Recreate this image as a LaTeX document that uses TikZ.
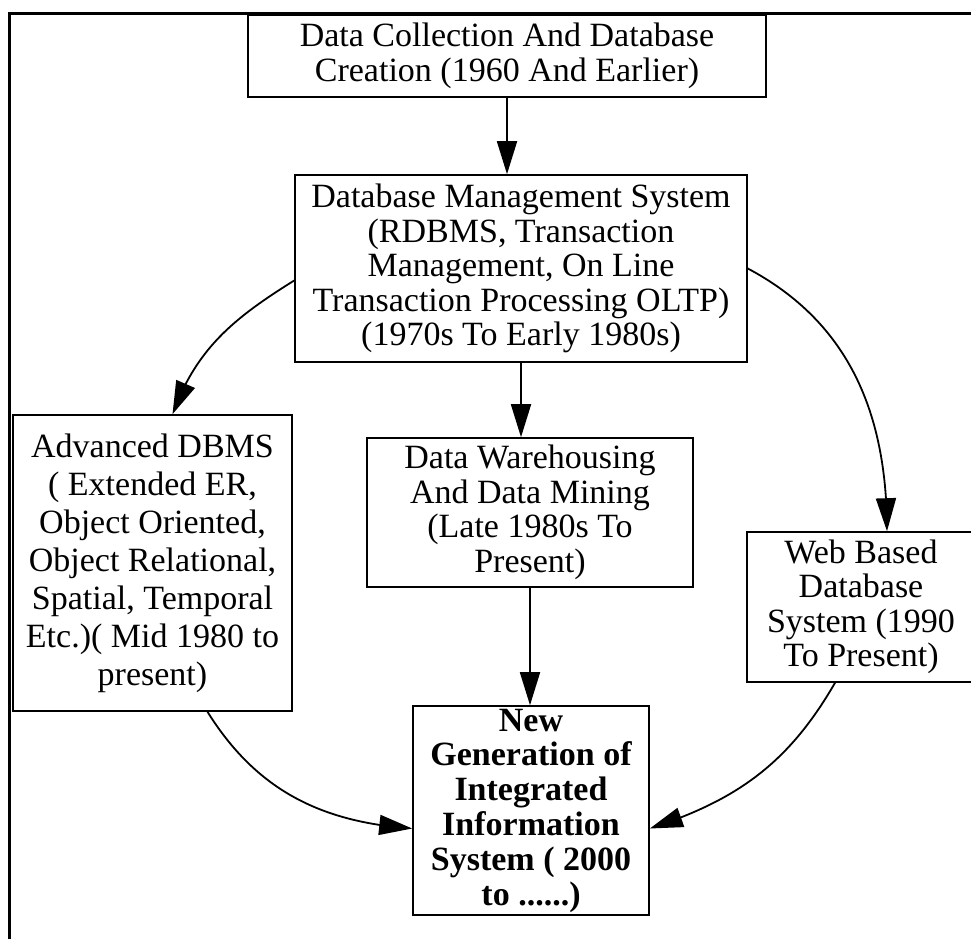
\documentclass[tikz,border=0pt]{standalone}
\usepackage{fontspec}
\setmainfont{Liberation Serif}
\usetikzlibrary{arrows.meta,bending,calc}

\tikzset{
  box/.style={draw, line width=1.6pt, inner sep=0pt, align=center,
    font=\fontsize{34}{34.5}\selectfont},
  link/.style={line width=1.8pt, -{Triangle[length=33pt,width=20pt]}},
}

\begin{document}
\begin{tikzpicture}[x=1pt, y=-1pt]
  \useasboundingbox (0,0) rectangle (971,939);

  % frame along the top and left edges
  \draw[line width=3pt] (9,939) -- (9,14) -- (971,14);

  % stages
  \node[box, minimum width=518pt, minimum height=82pt] (collect) at (507,56)
    {Data Collection And Database\\Creation (1960 And Earlier)};
  \node[box, minimum width=452pt, minimum height=187pt] (dbms) at (521,268.5)
    {Database Management System\\(RDBMS, Transaction\\Management, On Line\\Transaction Processing OLTP)\\(1970s To Early 1980s)};
  \node[box, minimum width=279pt, minimum height=296pt,
        font=\fontsize{34}{38}\selectfont] (adv) at (152.5,563)
    {Advanced DBMS\\( Extended ER,\\Object Oriented,\\Object Relational,\\Spatial, Temporal\\Etc.)( Mid 1980 to\\present)};
  \node[box, minimum width=326pt, minimum height=149pt] (dw) at (530,512.5)
    {Data Warehousing\\And Data Mining\\(Late 1980s To\\Present)};
  \node[box, minimum width=228pt, minimum height=150pt] (web) at (861,607)
    {Web Based\\Database\\System (1990\\To Present)};
  \node[box, minimum width=236pt, minimum height=209pt,
        font=\fontsize{34}{34.8}\selectfont\bfseries] (newgen) at (531,810.5)
    {New\\Generation of\\Integrated\\Information\\System ( 2000\\to ......)};

  % straight links
  \draw[link] (collect.south) -- (collect.south |- dbms.north);
  \draw[link] (dbms.south) -- (dbms.south |- dw.north);
  \draw[link] (dw.south) -- (dw.south |- newgen.north);

  % curved links
  \draw[link] ($(dbms.west)+(0,12)$) to[out=212, in=70] ($(adv.north)+(20,0)$);
  \draw[link] (dbms.east) to[out=-28, in=90] ($(web.north)+(26,0)$);
  \draw[link] ($(adv.south)+(55,0)$) to[out=-58, in=176] ($(newgen.west)+(0,18)$);
  \draw[link] ($(web.south)+(-26,0)$) to[out=-120, in=18] ($(newgen.east)+(0,18)$);
\end{tikzpicture}
\end{document}
